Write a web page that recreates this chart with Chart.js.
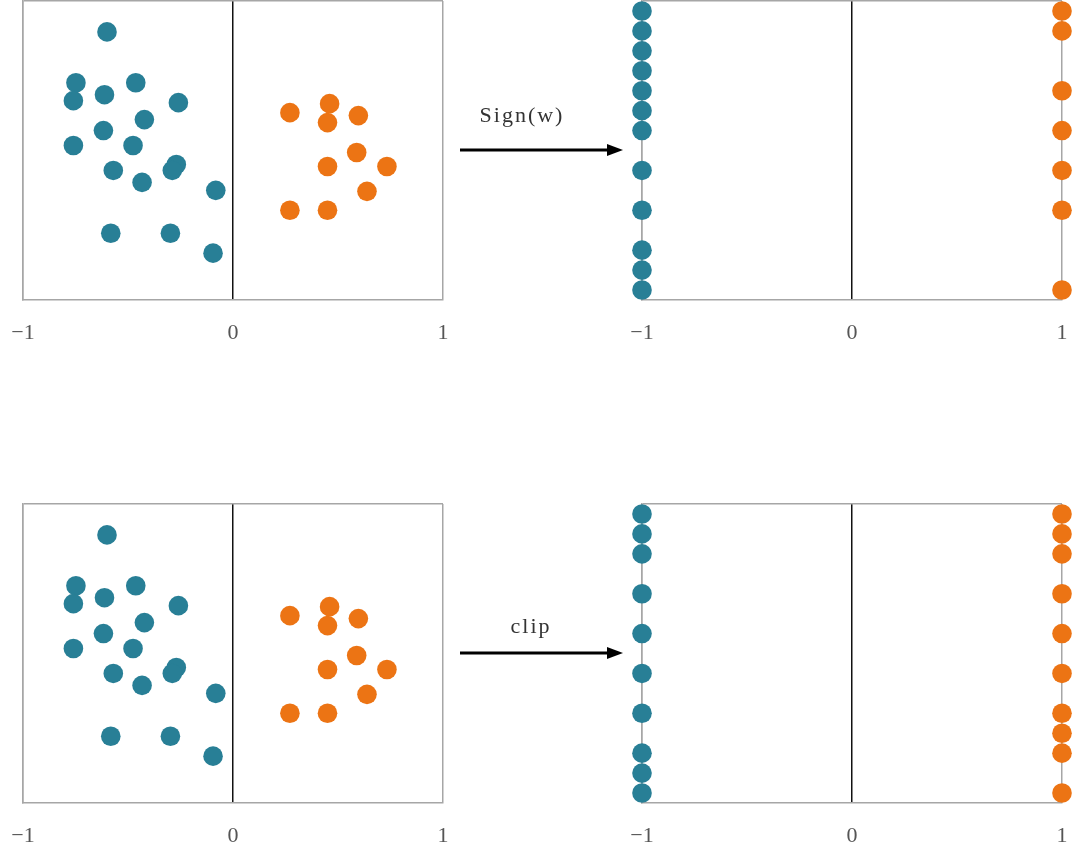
<!DOCTYPE html>
<html>
<head>
<meta charset="utf-8">
<script src="https://cdn.jsdelivr.net/npm/chart.js@4.4.1/dist/chart.umd.min.js"></script>
<style>
    body { margin: 0; background: #fff; width: 1080px; height: 861px; position: relative; overflow: hidden; }
    .panel { position: absolute; }
    .step { position: absolute; font-family: "Liberation Serif", serif; font-size: 22px; letter-spacing: 2px; color: #333; text-align: center; width: 160px; }
    svg.arrow { position: absolute; }
</style>
</head>
<body>
<div class="panel" style="left:0;top:0;width:470px;height:350px"><canvas id="beforeTop"></canvas></div>
<div class="panel" style="left:600px;top:0;width:480px;height:350px"><canvas id="signChart"></canvas></div>
<div class="panel" style="left:0;top:503px;width:470px;height:350px"><canvas id="beforeBottom"></canvas></div>
<div class="panel" style="left:600px;top:503px;width:480px;height:350px"><canvas id="clipChart"></canvas></div>

<div class="step" id="stepTop" style="left:442px;top:102px"></div>
<div class="step" id="stepBottom" style="left:451px;top:613px"></div>
<svg class="arrow" style="left:455px;top:140px" width="175" height="20"><line x1="5" y1="10" x2="155" y2="10" stroke="#000" stroke-width="3"/><path d="M152 4 L168 10 L152 16 Z" fill="#000"/></svg>
<svg class="arrow" style="left:455px;top:643px" width="175" height="20"><line x1="5" y1="10" x2="155" y2="10" stroke="#000" stroke-width="3"/><path d="M152 4 L168 10 L152 16 Z" fill="#000"/></svg>

<script>
// raw weights (left panels)
const tealX = [-0.60, -0.748, -0.76, -0.612, -0.463, -0.26, -0.422, -0.617, -0.76, -0.476, -0.57, -0.27, -0.289, -0.433, -0.082, -0.582, -0.298, -0.095];
const tealY = [13.45, 10.9, 10.0, 10.3, 10.9, 9.9, 9.05, 8.5, 7.75, 7.75, 6.5, 6.8, 6.5, 5.9, 5.5, 3.35, 3.35, 2.35];
const orangeX = [0.271, 0.46, 0.45, 0.597, 0.589, 0.45, 0.733, 0.638, 0.271, 0.45];
const orangeY = [9.4, 9.85, 8.9, 9.25, 7.4, 6.7, 6.7, 5.45, 4.5, 4.5];

// binarized weights (right panels)
const classValues = [-1, 1];
const signTealY = [14.5, 13.5, 12.5, 11.5, 10.5, 9.5, 8.5, 6.5, 4.5, 2.5, 1.5, 0.5];
const signOrangeY = [14.5, 13.5, 10.5, 8.5, 6.5, 4.5, 0.5];
const clipTealY = [14.5, 13.5, 12.5, 10.5, 8.5, 6.5, 4.5, 2.5, 1.5, 0.5];
const clipOrangeY = [14.5, 13.5, 12.5, 10.5, 8.5, 6.5, 4.5, 3.5, 2.5, 0.5];

const xTickLabels = ['\u22121', '0', '1'];
const stepLabels = ['Sign(w)', 'clip'];

const TEAL = '#287f96';
const ORANGE = '#ec7414';
const GRAY = '#a6a6a6';

document.getElementById('stepTop').textContent = stepLabels[0];
document.getElementById('stepBottom').textContent = stepLabels[1];

function pts(xs, ys) {
    return ys.map((y, i) => ({ x: xs[i], y }));
}

function dataset(data, color) {
    return {
        data,
        backgroundColor: color,
        borderWidth: 0,
        pointRadius: 9.8,
        pointHoverRadius: 9.8,
        clip: false
    };
}

function makeChart(id, datasets, padLeft, padRight) {
    new Chart(document.getElementById(id), {
        type: 'scatter',
        data: { datasets },
        options: {
            responsive: true,
            maintainAspectRatio: false,
            animation: false,
            layout: { autoPadding: false, padding: { left: padLeft, right: padRight, top: 1, bottom: 0 } },
            plugins: { legend: { display: false }, tooltip: { enabled: false } },
            scales: {
                x: {
                    type: 'linear',
                    min: -1,
                    max: 1,
                    afterFit: s => { s.height = 50; s.paddingLeft = 0; s.paddingRight = 0; },
                    afterBuildTicks: s => { s.ticks = [-1, 0, 1].map(v => ({ value: v })); },
                    ticks: {
                        padding: 20,
                        color: '#555',
                        font: { family: '"Liberation Serif", serif', size: 22 },
                        callback: (v) => xTickLabels[v + 1]
                    },
                    grid: {
                        drawTicks: false,
                        color: c => c.tick && c.tick.value === 0 ? '#111' : GRAY,
                        lineWidth: 1.5
                    },
                    border: { color: GRAY, width: 1.5 }
                },
                y: {
                    min: 0,
                    max: 15,
                    afterFit: s => { s.width = 0; },
                    ticks: { display: false, stepSize: 15 },
                    grid: {
                        drawTicks: false,
                        color: c => c.tick && c.tick.value === 15 ? GRAY : 'rgba(0,0,0,0)',
                        lineWidth: 1.5
                    },
                    border: { color: GRAY, width: 1.5 }
                }
            }
        }
    });
}

const beforeSets = () => [dataset(pts(tealX, tealY), TEAL), dataset(pts(orangeX, orangeY), ORANGE)];
const binSets = (tY, oY) => [
    dataset(pts(tY.map(() => classValues[0]), tY), TEAL),
    dataset(pts(oY.map(() => classValues[1]), oY), ORANGE)
];

makeChart('beforeTop', beforeSets(), 23, 27);
makeChart('beforeBottom', beforeSets(), 23, 27);
makeChart('signChart', binSets(signTealY, signOrangeY), 42, 18);
makeChart('clipChart', binSets(clipTealY, clipOrangeY), 42, 18);
</script>
</body>
</html>
